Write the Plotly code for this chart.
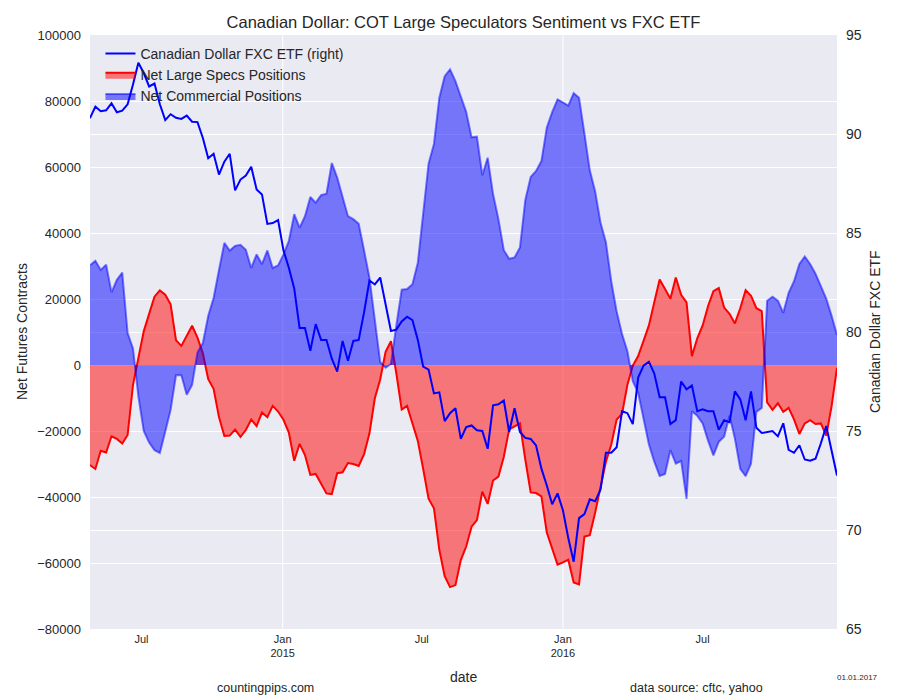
import pandas as pd
import plotly.graph_objects as go

# Weekly observations (Fridays)
dates = pd.date_range("2014-04-25", periods=140, freq="7D")

etf = [
    90.8, 91.38, 91.15, 91.2, 91.55, 91.1, 91.18, 91.5, 92.5, 93.6,
    93.08, 92.4, 92.55, 91.5, 90.7, 91.0, 90.82, 90.76, 90.93, 90.62,
    90.6, 89.8, 88.78, 89.0, 87.95, 88.6, 89.0, 87.15, 87.7, 87.9,
    88.35, 87.2, 86.95, 85.46, 85.5, 85.65, 84.12, 83.25, 82.2, 80.2,
    80.2, 79.05, 80.4, 79.6, 79.6, 78.65, 78.0, 79.55, 78.55, 79.55,
    79.6, 81.0, 82.6, 82.4, 82.75, 81.3, 80.05, 80.12, 80.53, 80.77,
    80.6, 79.6, 78.25, 78.1, 76.9, 76.95, 75.5, 75.9, 76.15, 74.6,
    75.2, 75.28, 75.04, 75.0, 74.1, 76.3, 76.35, 76.54, 74.95, 76.15,
    74.95, 74.65, 74.6, 74.27, 73.1, 72.25, 71.3, 71.85, 71.0, 69.6,
    68.4, 70.6, 70.8, 71.55, 71.45, 72.05, 73.9, 73.9, 74.18, 76.0,
    75.9, 75.35, 77.7, 78.3, 78.5, 77.9, 76.7, 76.7, 75.35, 75.55,
    77.5, 77.1, 77.3, 76.0, 76.1, 76.0, 76.0, 75.06, 75.54, 75.45,
    77.0, 76.6, 75.54, 77.0, 75.16, 74.9, 74.96, 75.0, 74.73, 75.39,
    74.05, 73.9, 74.28, 73.56, 73.5, 73.6, 74.38, 75.25, 74.0, 72.75,
]

large_specs = [
    -30300, -31500, -26000, -26500, -21600, -22400, -23800, -21200, -6000, 2300,
    10200, 15500, 20700, 22600, 21300, 18400, 7500, 5800, 9000, 11900,
    8300, 3500, -4300, -7200, -15800, -21500, -21400, -19600, -21800, -19700,
    -16500, -18500, -14400, -15800, -12400, -14100, -16600, -20500, -29000, -23900,
    -27300, -33300, -33000, -36000, -38900, -39100, -32800, -32500, -29700, -30000,
    -30600, -27000, -20700, -10100, -4400, 4000, 7200, -2500, -13500, -12400,
    -18000, -23000, -31500, -40500, -43400, -56000, -64000, -67300, -66700, -59100,
    -55000, -49000, -47000, -38400, -42100, -35000, -33800, -27800, -19500, -18700,
    -17700, -28700, -38600, -38800, -39800, -50800, -55500, -60500, -59800, -59000,
    -65900, -66500, -52000, -51600, -44700, -36900, -29300, -24100, -16500, -14800,
    -6000, -200, 2700, 7300, 12000, 19000, 25900, 23000, 20100, 26500,
    21300, 19000, 2700, 8100, 12000, 17800, 22400, 23300, 17400, 15500,
    12600, 17200, 22700, 21000, 17200, 16300, -11300, -13600, -11600, -14200,
    -13000, -16500, -20900, -17700, -16700, -17900, -17700, -21400, -12400, -800,
]

commercials = [
    30200, 31600, 28800, 30400, 22000, 25800, 28000, 9700, 5000, -9500,
    -20000, -23500, -25800, -26700, -20200, -13600, -3100, -3100, -9000, -6000,
    3800, 6700, 14900, 20300, 28800, 37000, 34700, 36100, 36400, 34900,
    29400, 33500, 30600, 34700, 29400, 30200, 33500, 37600, 45700, 41600,
    45100, 50900, 49200, 51500, 51900, 61200, 56800, 50900, 45100, 44200,
    42800, 34700, 26500, 13700, 900, -800, 300, 12000, 22800, 23000,
    24500, 31000, 47000, 61000, 67000, 81000, 87500, 89600, 86000, 81300,
    76700, 69000, 69200, 57500, 62800, 51800, 44200, 34800, 32200, 32600,
    35600, 50000, 57000, 58800, 61800, 72000, 76600, 80500, 79600, 78600,
    82400, 81000, 70200, 59000, 52600, 43100, 37200, 25300, 16200, 9400,
    4200, -4900, -8400, -16500, -24100, -29300, -33600, -33000, -25800, -29900,
    -29100, -40600, -14000, -15400, -17700, -22900, -27400, -23300, -21700, -15400,
    -22300, -31500, -33700, -29900, -14200, -13000, 19500, 20700, 19500, 15800,
    21900, 25400, 30600, 32900, 30600, 27700, 23600, 20100, 14900, 9100,
]

tick_dates = ["2014-07-01", "2015-01-01", "2015-07-01", "2016-01-01", "2016-07-01"]
tick_text = ["Jul", "Jan<br>2015", "Jul", "Jan<br>2016", "Jul"]
grid_dates = ["2015-01-01", "2016-01-01"]

TXT = "#262626"
FONT = "Liberation Sans, Arial, Helvetica, sans-serif"

fig = go.Figure()
fig.add_trace(go.Scatter(
    x=dates, y=large_specs, name="Net Large Specs Positions", mode="lines",
    line=dict(color="rgb(255,0,0)", width=2),
    fill="tozeroy", fillcolor="rgba(255,0,0,0.5)", legendrank=2,
))
fig.add_trace(go.Scatter(
    x=dates, y=commercials, name="Net Commercial Positions", mode="lines",
    line=dict(color="rgba(0,0,255,0.5)", width=2),
    fill="tozeroy", fillcolor="rgba(0,0,255,0.5)", legendrank=3,
))
fig.add_trace(go.Scatter(
    x=dates, y=etf, name="Canadian Dollar FXC ETF (right)", mode="lines",
    line=dict(color="rgb(0,0,255)", width=2), yaxis="y2", legendrank=1,
))

for d in grid_dates:
    fig.add_shape(type="line", xref="x", yref="paper", x0=d, x1=d, y0=0, y1=1,
                  line=dict(color="white", width=1), layer="below")

fig.update_layout(
    width=900, height=700,
    margin=dict(l=90, r=63, t=35, b=71),
    paper_bgcolor="white", plot_bgcolor="#EAEAF2",
    font=dict(family=FONT, color=TXT),
    title=dict(text="Canadian Dollar: COT Large Speculators Sentiment vs FXC ETF",
               x=0.5, xref="paper", xanchor="center",
               y=1 - 22 / 700, yref="container", yanchor="middle",
               font=dict(size=16.5, color=TXT)),
    showlegend=True,
    legend=dict(x=0.014, y=0.995, xanchor="left", yanchor="top",
                bgcolor="rgba(0,0,0,0)", font=dict(size=14, color=TXT),
                tracegroupgap=0),
    xaxis=dict(range=[dates[0], dates[-1]], tickvals=tick_dates, ticktext=tick_text,
               showgrid=False, zeroline=False, showline=False, ticks="",
               tickfont=dict(size=11, color=TXT), ticklabelstandoff=2,
               automargin=False),
    yaxis=dict(range=[-80000, 100000], dtick=20000, tickformat="d",
               showgrid=True, gridcolor="white", gridwidth=1,
               zeroline=False, showline=False, ticks="",
               tickfont=dict(size=13, color=TXT), ticklabelstandoff=8,
               automargin=False),
    yaxis2=dict(range=[65, 95], dtick=5, overlaying="y", side="right",
                showgrid=True, gridcolor="white", gridwidth=1,
                zeroline=False, showline=False, ticks="",
                tickfont=dict(size=14, color=TXT), ticklabelstandoff=8,
                automargin=False),
    annotations=[
        dict(text="Net Futures Contracts", xref="paper", yref="paper",
             x=(22 - 90) / 747, y=0.5, textangle=-90, showarrow=False,
             xanchor="center", yanchor="middle", font=dict(size=14, color=TXT)),
        dict(text="Canadian Dollar FXC ETF", xref="paper", yref="paper",
             x=(875 - 90) / 747, y=0.5, textangle=-90, showarrow=False,
             xanchor="center", yanchor="middle", font=dict(size=14, color=TXT)),
        dict(text="date", xref="paper", yref="paper",
             x=0.5, y=(629 - 677) / 594, showarrow=False,
             xanchor="center", yanchor="middle", font=dict(size=14, color=TXT)),
        dict(text="countingpips.com", xref="paper", yref="paper",
             x=(265 - 90) / 747, y=(629 - 688) / 594, showarrow=False,
             xanchor="center", yanchor="middle", font=dict(size=12.5, color=TXT)),
        dict(text="data source: cftc, yahoo", xref="paper", yref="paper",
             x=(696 - 90) / 747, y=(629 - 688) / 594, showarrow=False,
             xanchor="center", yanchor="middle", font=dict(size=12.5, color=TXT)),
        dict(text="01.01.2017", xref="paper", yref="paper",
             x=(858 - 90) / 747, y=(629 - 678) / 594, showarrow=False,
             xanchor="center", yanchor="middle", font=dict(size=8, color=TXT)),
    ],
)

fig.write_html("out.html",
               config={"displayModeBar": False},
               post_script="document.body.style.margin='0';document.body.style.padding='0';")
